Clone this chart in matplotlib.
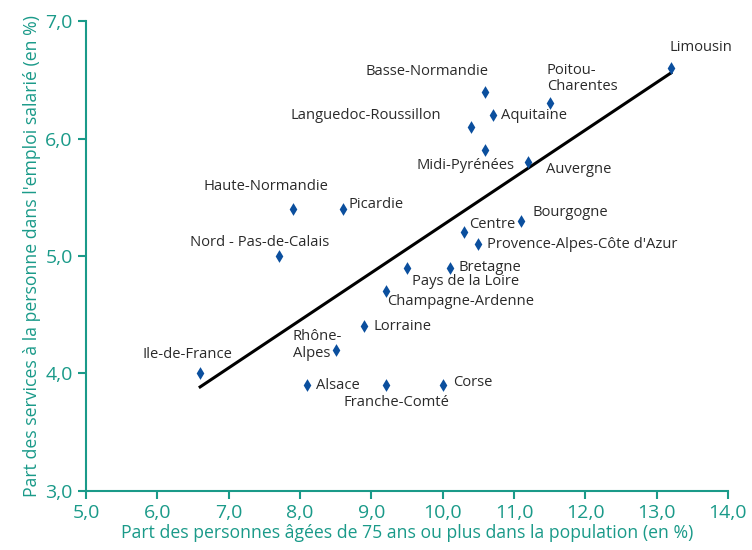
import numpy as np
import matplotlib
matplotlib.use("Agg")
import matplotlib.pyplot as plt

regions = ['Limousin', 'Basse-Normandie', 'Poitou-\nCharentes', 'Aquitaine',
           'Languedoc-Roussillon', 'Midi-Pyrénées', 'Auvergne', 'Haute-Normandie',
           'Picardie', 'Bourgogne', 'Centre', "Provence-Alpes-Côte d'Azur",
           'Nord - Pas-de-Calais', 'Pays de la Loire', 'Bretagne',
           'Champagne-Ardenne', 'Lorraine', 'Rhône-\nAlpes', 'Ile-de-France',
           'Alsace', 'Franche-Comté', 'Corse']
part_75 = [13.2, 10.6, 11.5, 10.7, 10.4, 10.6, 11.2, 7.9, 8.6, 11.1, 10.3, 10.5,
           7.7, 9.5, 10.1, 9.2, 8.9, 8.5, 6.6, 8.1, 9.2, 10.0]
part_sap = [6.6, 6.4, 6.3, 6.2, 6.1, 5.9, 5.8, 5.4, 5.4, 5.3, 5.2, 5.1,
            5.0, 4.9, 4.9, 4.7, 4.4, 4.2, 4.0, 3.9, 3.9, 3.9]
x_ticks = [5, 6, 7, 8, 9, 10, 11, 12, 13, 14]
y_ticks = [3, 4, 5, 6, 7]

# label placement: (dx, dy) in pixels, horizontal alignment
label_pos = [(-1, 21, 'left'), (3, 20, 'right'), (-3, 25, 'left'), (8, 0, 'left'),
             (-30, 11, 'right'), (29, -15, 'right'), (18, -7, 'left'), (-27, 23, 'center'),
             (6, 5, 'left'), (11, 8, 'left'), (5, 8, 'left'), (9, 0, 'left'),
             (-19, 13, 'center'), (5, -14, 'left'), (9, 0, 'left'),
             (2, -10, 'left'), (9, 0, 'left'), (-43, 5, 'left'), (-13, 19, 'center'),
             (9, 0, 'left'), (11, -17, 'center'), (10, 3, 'left')]

teal = '#1a9a89'
plt.rcParams['font.family'] = ['Open Sans', 'DejaVu Sans']

fig = plt.figure(figsize=(7.52, 5.50), dpi=100)
ax = fig.add_axes([0.1144, 0.1073, 0.8536, 0.8545])

ax.scatter(part_75, part_sap, marker='d', s=42, color='#0b4f9e', zorder=3,
           linewidths=0)

# trend line
x = np.array(part_75)
y = np.array(part_sap)
a, b = np.polyfit(x, y, 1)
xs = np.array([x.min(), x.max()])
ax.plot(xs, a * xs + b, color='black', lw=2.2, zorder=2)

for name, px, py, (dx, dy, ha) in zip(regions, part_75, part_sap, label_pos):
    ax.annotate(name, (px, py), xytext=(dx * 0.72, dy * 0.72),
                textcoords='offset points', ha=ha, va='center',
                fontsize=10.6, color='#2a2a2a', linespacing=1.1)

ax.set_xlim(5, 14)
ax.set_ylim(3, 7)
ax.set_xticks(x_ticks)
ax.set_yticks(y_ticks)
ax.set_xticklabels(['{:.1f}'.format(v).replace('.', ',') for v in x_ticks])
ax.set_yticklabels(['{:.1f}'.format(v).replace('.', ',') for v in y_ticks])
for s in ['top', 'right']:
    ax.spines[s].set_visible(False)
for s in ['left', 'bottom']:
    ax.spines[s].set_color(teal)
    ax.spines[s].set_linewidth(1.5)
ax.tick_params(colors=teal, labelsize=14, length=6, width=1.5, direction='out')
ax.set_xlabel('Part des personnes âgées de 75 ans ou plus dans la population (en %)',
              color=teal, fontsize=12.7, labelpad=1)
ax.set_ylabel("Part des services à la personne dans l'emploi salarié (en %)",
              color=teal, fontsize=12.7, labelpad=3)

fig.savefig('out.png', dpi=100)
